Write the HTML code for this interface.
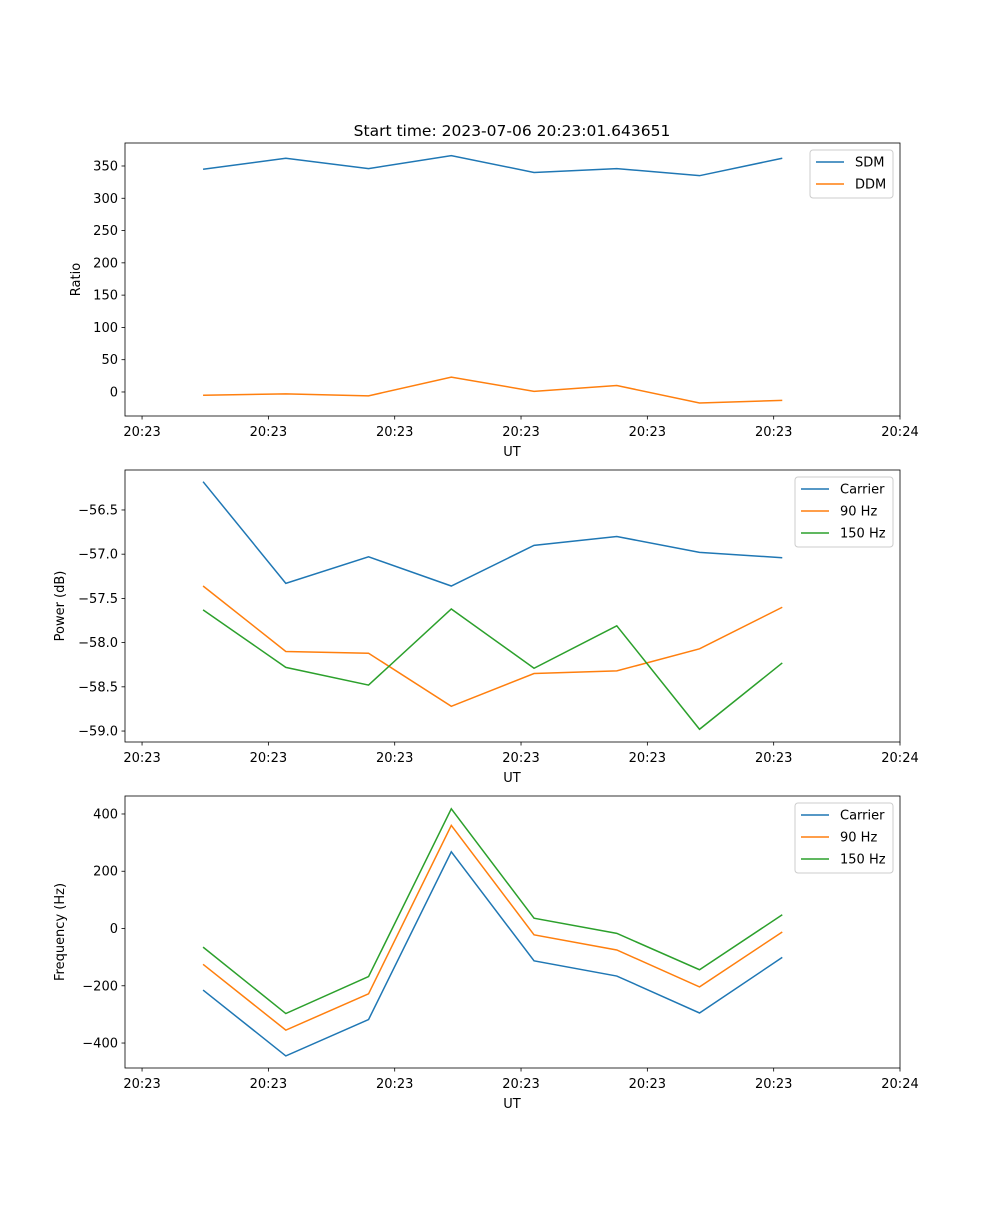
<!DOCTYPE html>
<html><head><meta charset="utf-8"><style>
body{margin:0;background:#fff;font-family:"Liberation Sans","DejaVu Sans",sans-serif}
svg text{font-family:"DejaVu Sans","Liberation Sans",sans-serif;font-size:13px;fill:#000}
</style></head><body>
<svg id="fig" width="1000" height="1200" xmlns="http://www.w3.org/2000/svg">
<text x="512" y="136" text-anchor="middle" style="font-size:15.5px">Start time: 2023-07-06 20:23:01.643651</text>
</svg>
<script>
const times=[4.83,11.38,17.93,24.48,31.03,37.58,44.13,50.68];
const xTicks=[0,10,20,30,40,50,60];
const xTickLabels=["20:23","20:23","20:23","20:23","20:23","20:23","20:24"];
const sdm=[345,362,346,366,340,346,335,362];
const ddm=[-5,-3,-6,23,1,10,-17,-13];
const pCarrier=[-56.18,-57.33,-57.03,-57.36,-56.90,-56.80,-56.98,-57.04];
const p90=[-57.36,-58.10,-58.12,-58.72,-58.35,-58.32,-58.07,-57.60];
const p150=[-57.63,-58.28,-58.48,-57.62,-58.29,-57.81,-58.98,-58.23];
const fCarrier=[-215,-445,-318,268,-113,-166,-295,-101];
const f90=[-125,-355,-228,360,-22,-75,-204,-12];
const f150=[-65,-297,-168,418,36,-17,-144,48];
const ticks1=[0,50,100,150,200,250,300,350];
const ticks2=[-59.0,-58.5,-58.0,-57.5,-57.0,-56.5];
const ticks3=[-400,-200,0,200,400];
const C=["#1f77b4","#ff7f0e","#2ca02c"];
const svg=document.getElementById('fig');
const NS="http://www.w3.org/2000/svg";
function mk(t,a,p){const e=document.createElementNS(NS,t);for(const k in a)e.setAttribute(k,a[k]);(p||svg).appendChild(e);return e;}
const L=125,R=900,xmin=-1.35,xmax=60;
const X=t=>L+(t-xmin)/(xmax-xmin)*(R-L);
function panel(name,top,bot,ymin,ymax,yt,fmt,ylabel,series,names,legW){
 const g=mk('g',{});
 
 
 const Y=v=>bot-(v-ymin)/(ymax-ymin)*(bot-top);
 series.forEach((s,i)=>{
  const pl=mk('polyline',{points:s.map((v,j)=>X(times[j])+','+Y(v)).join(' '),fill:'none',stroke:C[i],'stroke-width':1.5},g);
  
  
 });
 const fr=mk('rect',{x:L,y:top,width:R-L,height:bot-top,fill:'none',stroke:'#000','stroke-width':0.8},g);
 
 
 xTicks.forEach((t,i)=>{
  mk('line',{x1:X(t),x2:X(t),y1:bot,y2:bot+3.5,stroke:'#000','stroke-width':0.8},g);
  const tx=mk('text',{x:X(t),y:bot+20,'text-anchor':'middle'},g);tx.textContent=xTickLabels[i];
  
  
 });
 yt.forEach(v=>{
  mk('line',{x1:L-3.5,x2:L,y1:Y(v),y2:Y(v),stroke:'#000','stroke-width':0.8},g);
  const tx=mk('text',{x:L-7,y:Y(v)+4.5,'text-anchor':'end'},g);tx.textContent=fmt(v);
  
  
 });
 const xl=mk('text',{x:512,y:bot+40,'text-anchor':'middle'},g);xl.textContent='UT';
 
 
 const yl=mk('text',{x:0,y:0,'text-anchor':'middle',transform:`translate(${name==='ratio-panel'?80:64},${(top+bot)/2}) rotate(-90)`},g);yl.textContent=ylabel;
 
 
 const lx=893-legW,ly=top+7;
 const lb=mk('rect',{x:lx,y:ly,width:legW,height:names.length*22+4,rx:3,fill:'#fff','fill-opacity':0.8,stroke:'#ccc'},g);
 
 
 names.forEach((n,i)=>{
  const yy=ly+12+i*22;
  mk('line',{x1:lx+6,x2:lx+34,y1:yy,y2:yy,stroke:C[i],'stroke-width':1.5},g);
  const t=mk('text',{x:lx+45,y:yy+4.5},g);t.textContent=n;
  
  
 });
}
panel('ratio-panel',143,416,-37.2,385.6,ticks1,v=>v<0?'−'+(-v):String(v),'Ratio',[sdm,ddm],['SDM','DDM'],83);
panel('power-panel',470,742,-59.124,-56.048,ticks2,v=>'−'+(-v).toFixed(1),'Power (dB)',[pCarrier,p90,p150],['Carrier','90 Hz','150 Hz'],98);
panel('frequency-panel',796,1068,-487.2,462.8,ticks3,v=>v<0?'−'+(-v):String(v),'Frequency (Hz)',[fCarrier,f90,f150],['Carrier','90 Hz','150 Hz'],98);
</script>
</body></html>
